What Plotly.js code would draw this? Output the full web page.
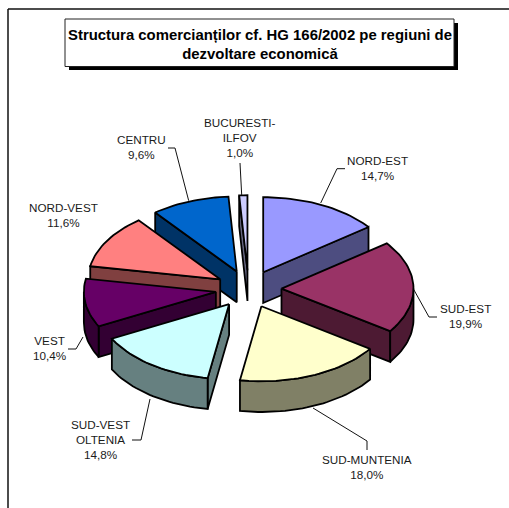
<!DOCTYPE html>
<html>
<head>
<meta charset="utf-8">
<script src="https://cdn.plot.ly/plotly-3.0.1.min.js"></script>
<style>html,body{margin:0;padding:0;background:#fff;overflow:hidden}#chart{width:509px;height:508px}</style>
</head>
<body>
<div id="chart"></div>
<script>
// ---- data ----
const regions = ["NORD-EST","SUD-EST","SUD-MUNTENIA","SUD-VEST<br>OLTENIA","VEST","NORD-VEST","CENTRU","BUCURESTI-<br>ILFOV"];
const shares = [14.7,19.9,18.0,14.8,10.4,11.6,9.6,1.0];
const shareLabels = ["14,7%","19,9%","18,0%","14,8%","10,4%","11,6%","9,6%","1,0%"];
const topColors = ["#9999FF","#993366","#FFFFCC","#CCFFFF","#660066","#FF8080","#0066CC","#CCCCFF"];
const sideColors = ["#4D4D80","#4D1A33","#808066","#668080","#330033","#804040","#003366","#666680"];
const titleText = "Structura comercianților cf. HG 166/2002 pe regiuni de<br>dezvoltare economică";

// ---- layout constants (pixels) ----
const W = 509, H = 508;
const CX = 248.5, CY = 289, RX = 132, RY = 75;
const DEPTH = 0.41, PULL = 0.25;
const labelPos = [[377,168],[465,315.5],[367,466.5],[100.7,439.5],[49,347.5],[64,214.5],[141,147],[240,137.5]];
const leaders = [
  [[345,168.7],[337,168.7],[320.7,203]],
  [[414,290],[429,317],[437,317]],
  [[313,408],[367,441],[367,450]],
  [[150,399],[141,440],[132,440]],
  [[83,337],[76,349],[68,349]],
  [[168,148],[175,148],[188.7,200.7]],
  [[240,163],[241.7,195]]
];
const px = x => x / W, py = y => 1 - y / H;

// ---- geometry derived from the shares ----
const rad = d => d * Math.PI / 180;
let acc = 0;
const wedges = shares.map((s, i) => {
  const a = acc * 3.6; acc += s; const b = acc * 3.6; const mid = (a + b) / 2;
  return {i, a, b, mid, ax: PULL * Math.sin(rad(mid)), ay: PULL * Math.cos(rad(mid))};
});
const arc = (w, from, to, dz) => {
  const n = Math.max(2, Math.ceil((to - from) / 2)), pts = [];
  for (let k = 0; k <= n; k++) {
    const t = rad(from + (to - from) * k / n);
    pts.push([w.ax + Math.sin(t), w.ay + Math.cos(t) - dz]);
  }
  return pts;
};
const poly = (pts, color) => ({
  type: "scatter", mode: "lines", fill: "toself", fillcolor: color,
  x: pts.concat([pts[0]]).map(p => p[0]), y: pts.concat([pts[0]]).map(p => p[1]),
  line: {color: "#000", width: 1.8}, hoverinfo: "skip", showlegend: false
});
const radialFace = (w, ang, color) => {
  const e = arc(w, ang, ang, 0)[0];
  return poly([[w.ax, w.ay], e, [e[0], e[1] - DEPTH], [w.ax, w.ay - DEPTH]], color);
};
const traces = [];
wedges.slice().sort((p, q) => Math.cos(rad(q.mid)) - Math.cos(rad(p.mid))).forEach(w => {
  const side = sideColors[w.i];
  if (Math.sin(rad(w.a)) < 0) traces.push(radialFace(w, w.a, side));
  if (Math.sin(rad(w.b)) > 0) traces.push(radialFace(w, w.b, side));
  const from = Math.max(w.a, 90), to = Math.min(w.b, 270);
  if (to > from) traces.push(poly(arc(w, from, to, 0).concat(arc(w, from, to, DEPTH).reverse()), side));
  traces.push(poly([[w.ax, w.ay]].concat(arc(w, w.a, w.b, 0)), topColors[w.i]));
});

// ---- shapes and texts ----
const line = (x0, y0, x1, y1, width, color) => ({
  type: "line", xref: "paper", yref: "paper", x0: px(x0), y0: py(y0), x1: px(x1), y1: py(y1),
  line: {color, width}
});
const rect = (x0, y0, x1, y1, fill, lineColor) => ({
  type: "rect", xref: "paper", yref: "paper", x0: px(x0), y0: py(y0), x1: px(x1), y1: py(y1),
  fillcolor: fill, line: {color: lineColor, width: lineColor === "#000" ? 0 : 1}
});
const shapes = [
  line(8, 9, W, 9, 1.5, "#111"),
  line(8, 9, 8, H, 1.5, "#111"),
  rect(69, 23, 458, 70, "#000", "#000"),
  rect(65, 19, 454, 66.5, "#fff", "#222")
];
leaders.forEach(seg => {
  for (let k = 0; k + 1 < seg.length; k++)
    shapes.push(line(seg[k][0], seg[k][1], seg[k + 1][0], seg[k + 1][1], 1, "#111"));
});
const FONT = "'Liberation Sans', Arial, sans-serif";
const annotations = regions.map((r, i) => ({
  xref: "paper", yref: "paper", x: px(labelPos[i][0]), y: py(labelPos[i][1]),
  xanchor: "center", yanchor: "middle", align: "center", showarrow: false,
  text: r + "<br>" + shareLabels[i], font: {family: FONT, size: 11.7, color: "#1a1a1a"}
}));
annotations.push({
  xref: "paper", yref: "paper", x: px(259.5), y: py(44.5), xanchor: "center", yanchor: "middle",
  align: "center", showarrow: false, text: "<b>" + titleText + "</b>",
  font: {family: FONT, size: 14.9, color: "#000"}
});
const hiddenAxis = range => ({range, visible: false, fixedrange: true, showgrid: false, zeroline: false});
Plotly.newPlot("chart", traces, {
  width: W, height: H, margin: {l: 0, r: 0, t: 0, b: 0},
  paper_bgcolor: "#fff", plot_bgcolor: "#fff", showlegend: false, hovermode: false,
  xaxis: hiddenAxis([-CX / RX, (W - CX) / RX]),
  yaxis: hiddenAxis([(CY - H) / RY, CY / RY]),
  shapes, annotations
}, {displayModeBar: false, staticPlot: true});
</script>
</body>
</html>
